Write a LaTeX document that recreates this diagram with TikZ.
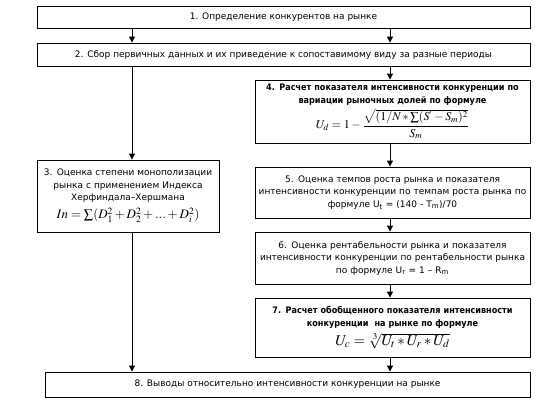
\documentclass[tikz,border=0pt]{standalone}
\usepackage{mathptmx}
\usepackage[no-math]{fontspec}
\setmainfont{DejaVu Sans}[BoldFont=DejaVu Sans Condensed Bold]
\usetikzlibrary{arrows.meta,calc}
\tikzset{
  box/.style={draw, line width=0.9pt, align=center, inner sep=1pt,
    font=\fontsize{9}{12.5}\selectfont},
  arr/.style={line width=1pt, -{Triangle[width=6pt,length=6pt]}}
}
\begin{document}
\begin{tikzpicture}[x=1pt,y=-1pt]
\useasboundingbox (0,0) rectangle (549,401);
\node[box, minimum width=493pt, minimum height=22pt] (b1) at (283.5,17) {1. Определение конкурентов на рынке};
\node[box, minimum width=493pt, minimum height=23pt] (b2) at (283.5,54.5) {2. Сбор первичных данных и их приведение к сопоставимому виду за разные периоды};
\node[box, minimum width=182pt, minimum height=72pt, text width=180pt] (b3) at (128,196) {3. Оценка степени монополизации\\ рынка с применением Индекса\\ Херфиндала–Хершмана\\[4pt] \mbox{\fontsize{13}{14}\selectfont$In=\sum(D_1^2+D_2^2+...+D_i^2)$}};
\node[box, minimum width=275pt, minimum height=63pt, text width=273pt] (b4) at (392.5,111.5) {\bfseries 4. Расчет показателя интенсивности конкуренции по\\ \bfseries вариации рыночных долей по формуле\\[3pt] \mbox{\fontsize{12}{13}\selectfont$\displaystyle U_d=1-\frac{\sqrt{(1/N*\sum(S^{'}-S_m)^2}}{S_m}$}};
\node[box, minimum width=275pt, minimum height=51pt, text width=273pt] (b5) at (392.5,192.5) {5. Оценка темпов роста рынка и показателя\\ интенсивности конкуренции по темпам роста рынка по\\ формуле U\textsubscript{t} = (140 - T\textsubscript{m})/70};
\node[box, minimum width=275pt, minimum height=52pt, text width=273pt] (b6) at (392.5,258) {6. Оценка рентабельности рынка и показателя\\ интенсивности конкуренции по рентабельности рынка\\ по формуле U\textsubscript{r} = 1 – R\textsubscript{m}};
\node[box, minimum width=275pt, minimum height=59pt, text width=273pt] (b7) at (392.5,327.5) {\bfseries 7. Расчет обобщенного показателя интенсивности\\ \bfseries конкуренции\ \ на рынке по формуле\\[4pt] \mbox{\fontsize{15}{16}\selectfont$U_c=\sqrt[3]{U_t*U_r*U_d}$}};
\node[box, minimum width=485pt, minimum height=25pt] (b8) at (287.5,384.5) {8. Выводы относительно интенсивности конкуренции на рынке};
\coordinate (cl) at (132,0);
\coordinate (cr) at (390,0);
\draw[arr] (b1.south -| cl) -- (b2.north -| cl);
\draw[arr] (b1.south -| cr) -- (b2.north -| cr);
\draw[arr] (b2.south -| cl) -- (b3.north -| cl);
\draw[arr] (b3.south -| cl) -- (b8.north -| cl);
\draw[arr] (b2.south -| cr) -- (b4.north -| cr);
\draw[arr] (b4.south -| cr) -- (b5.north -| cr);
\draw[arr] (b5.south -| cr) -- (b6.north -| cr);
\draw[arr] (b6.south -| cr) -- (b7.north -| cr);
\draw[arr] (b7.south -| cr) -- (b8.north -| cr);
\end{tikzpicture}
\end{document}
